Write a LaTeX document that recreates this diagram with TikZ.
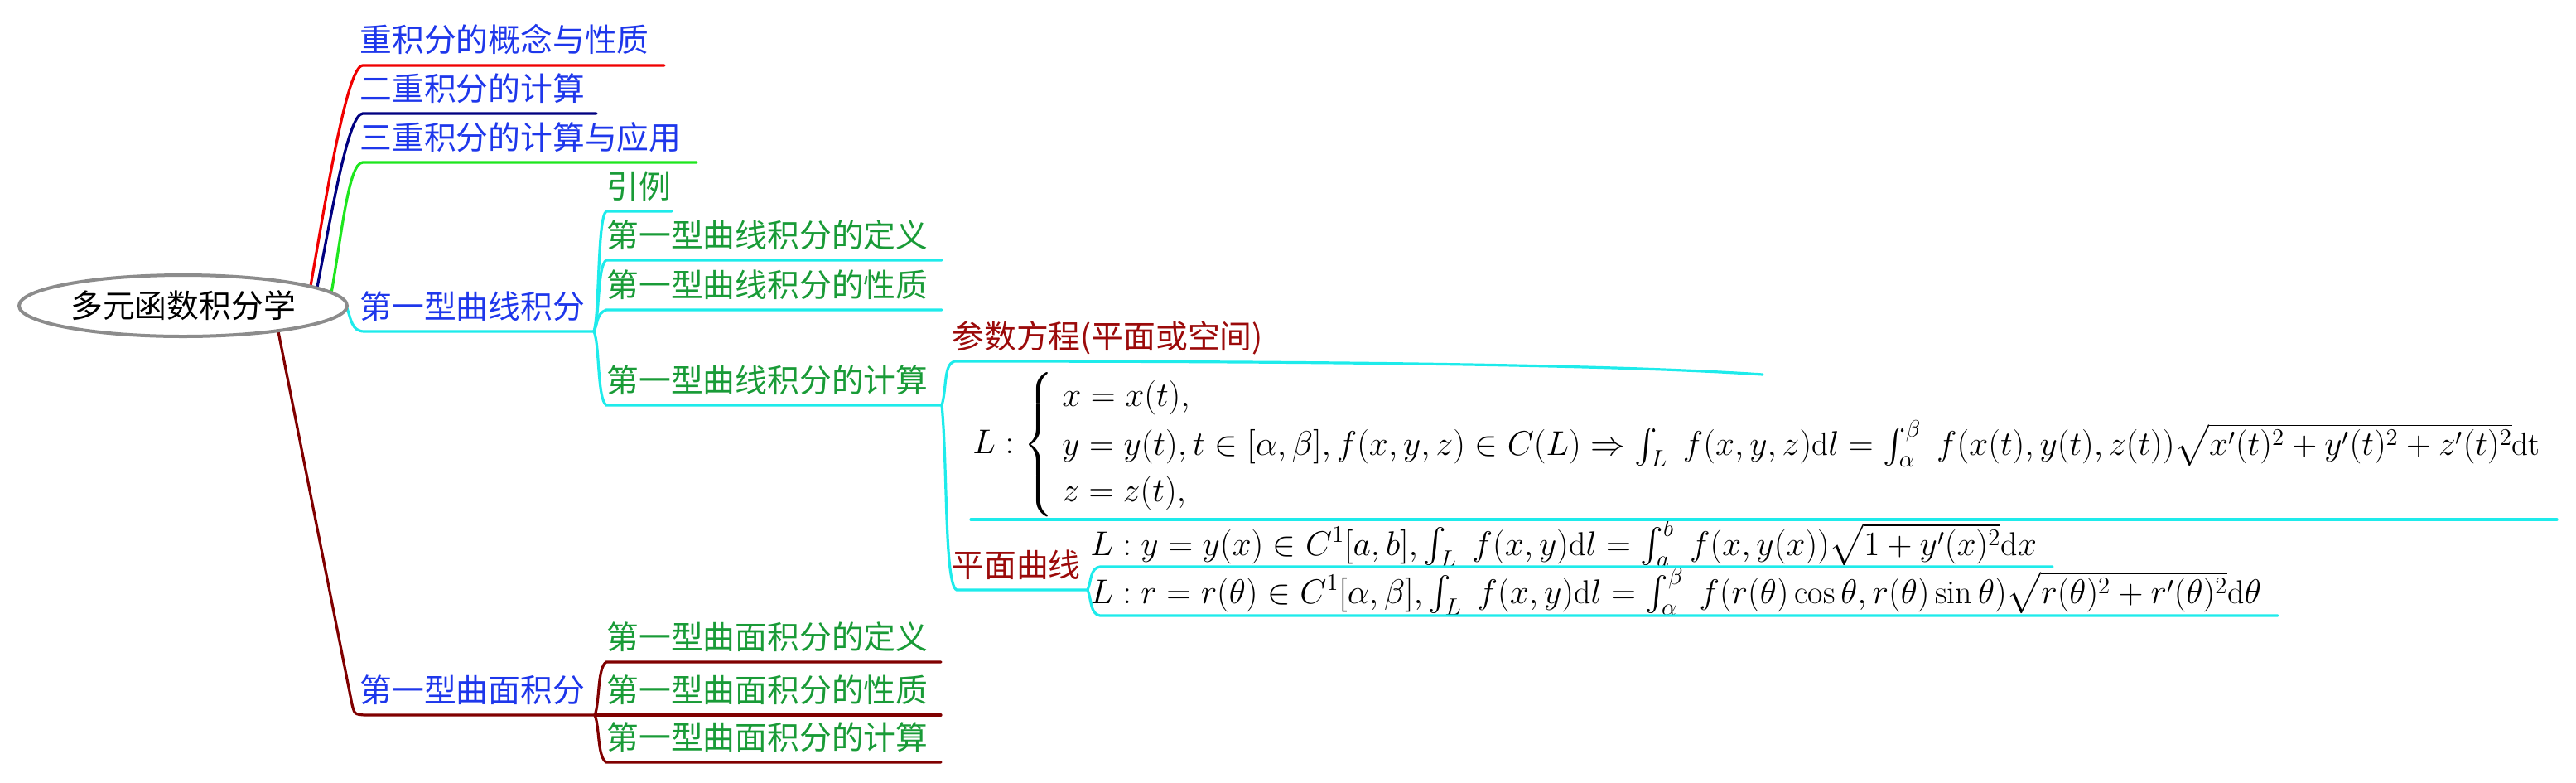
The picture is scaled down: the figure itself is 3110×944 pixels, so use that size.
\documentclass[tikz,border=0pt]{standalone}
\usepackage{fontspec}
\usepackage{amsmath}
\usetikzlibrary{shapes.geometric}
\newfontfamily\cjk{Noto Sans CJK SC}
\definecolor{lvOne}{RGB}{30,55,235}
\definecolor{lvTwo}{RGB}{25,155,55}
\definecolor{lvThree}{RGB}{155,10,10}
\definecolor{cRed}{RGB}{240,0,0}
\definecolor{cNavy}{RGB}{0,0,128}
\definecolor{cGreen}{RGB}{30,230,30}
\definecolor{cCyan}{RGB}{30,235,235}
\definecolor{cMaroon}{RGB}{128,0,0}
\definecolor{cGray}{RGB}{140,140,140}
\tikzset{
  txt/.style={anchor=base west, inner sep=0pt, font=\cjk\fontsize{19.4}{23}\selectfont},
  one/.style={txt, text=lvOne},
  two/.style={txt, text=lvTwo},
  three/.style={txt, text=lvThree},
  mth/.style={anchor=base west, inner sep=0pt, font=\fontsize{20}{24}\selectfont},
  br/.style={line width=1.6pt, line cap=round},
  rootnode/.style={ellipse, draw=cGray, line width=2pt, fill=white, inner sep=0pt,
    minimum width=198pt, minimum height=37pt, font=\cjk\fontsize{19.4}{23}\selectfont}
}
\begin{document}
\begin{tikzpicture}[x=0.5pt,y=-0.5pt]
\useasboundingbox (0,0) rectangle (3110,944);

% ---------- text nodes ----------
\node[one] (nA) at (434,62) {重积分的概念与性质};
\node[one] (nB) at (434,121) {二重积分的计算};
\node[one] (nC) at (434,180) {三重积分的计算与应用};
\node[one] (nD) at (434,384) {第一型曲线积分};
\node[one] (nE) at (434,847) {第一型曲面积分};

\node[two] (nD1) at (732,239) {引例};
\node[two] (nD2) at (732,298) {第一型曲线积分的定义};
\node[two] (nD3) at (732,358) {第一型曲线积分的性质};
\node[two] (nD4) at (732,473) {第一型曲线积分的计算};

\node[two] (nE1) at (732,783) {第一型曲面积分的定义};
\node[two] (nE2) at (732,847) {第一型曲面积分的性质};
\node[two] (nE3) at (732,904) {第一型曲面积分的计算};

\node[three] (nP) at (1149,420) {参数方程(平面或空间)};
\node[three] (nQ) at (1149,696) {平面曲线};

\node[mth, anchor=west, font=\fontsize{19.6}{23.5}\selectfont] (fP) at (1174,537) {$\renewcommand{\arraystretch}{1.18}L:\left\{\begin{array}{l}
x=x(t),\\
y=y(t),t\in[\alpha,\beta],f(x,y,z)\in C(L)\Rightarrow\int_L\ f(x,y,z)\mathrm{d}l=\int_\alpha^\beta\ f(x(t),y(t),z(t))\sqrt{x'(t)^2+y'(t)^2+z'(t)^2}\mathrm{dt}\\
z=z(t),
\end{array}\right.$};
\node[mth] (fY) at (1316,670) {$L:y=y(x)\in C^1[a,b],\int_L\ f(x,y)\mathrm{d}l=\int_a^b\ f(x,y(x))\sqrt{1+y'(x)^2}\mathrm{d}x$};
\node[mth] (fR) at (1316,728) {$L:r=r(\theta)\in C^1[\alpha,\beta],\int_L\ f(x,y)\mathrm{d}l=\int_\alpha^\beta\ f(r(\theta)\cos\theta,r(\theta)\sin\theta)\sqrt{r(\theta)^2+r'(\theta)^2}\mathrm{d}\theta$};

% ---------- coordinates ----------
\coordinate (rA) at (372,362);
\coordinate (rB) at (380,362);
\coordinate (rC) at (398,365);
\coordinate (rD) at (418,369);
\coordinate (rE) at (333,385);

\coordinate (aS) at (438,79);  \coordinate (aE) at (802,79);
\coordinate (bS) at (438,137); \coordinate (bE) at (720,137);
\coordinate (cS) at (438,196); \coordinate (cE) at (841,196);
\coordinate (dS) at (440,400); \coordinate (dE) at (717,400);
\coordinate (eK) at (425,850);
\coordinate (eS) at (440,863); \coordinate (eE) at (718,863);

\coordinate (d1S) at (732,255); \coordinate (d1E) at (811,255);
\coordinate (d2S) at (732,314); \coordinate (d2E) at (1137,314);
\coordinate (d3S) at (732,374); \coordinate (d3E) at (1137,374);
\coordinate (d4S) at (732,489); \coordinate (d4E) at (1137,489);

\coordinate (e1S) at (732,799); \coordinate (e1E) at (1136,799);
\coordinate (e3S) at (732,920); \coordinate (e3E) at (1136,920);

\coordinate (pS) at (1152,436); \coordinate (pE) at (2128,452);
\coordinate (qS) at (1155,712); \coordinate (qE) at (1313,712);
\coordinate (fPS) at (1172,627); \coordinate (fPE) at (3087,627);
\coordinate (ySt) at (1328,684); \coordinate (yE) at (2478,684);
\coordinate (rSt) at (1328,743); \coordinate (rEn) at (2750,743);

% ---------- connectors ----------
\draw[br,cRed] (rA) .. controls (392,250) and (418,79) .. (aS) -- (aE);
\draw[br,cNavy] (rB) .. controls (400,260) and (420,137) .. (bS) -- (bE);
\draw[br,cGreen] (rC) .. controls (412,290) and (420,196) .. (cS) -- (cE);
\draw[br,cCyan] (rD) .. controls (424,385) and (424,400) .. (dS) -- (dE);
\draw[br,cMaroon] (rE) -- (eK) .. controls (428,862) .. (eS) -- (eE);

\draw[br,cCyan] (dE) .. controls (724,380) and (721,262) .. (d1S) -- (d1E);
\draw[br,cCyan] (dE) .. controls (724,385) and (721,320) .. (d2S) -- (d2E);
\draw[br,cCyan] (dE) .. controls (722,390) and (720,378) .. (d3S) -- (d3E);
\draw[br,cCyan] (dE) .. controls (724,415) and (721,482) .. (d4S) -- (d4E);

\draw[br,cMaroon] (eE) .. controls (724,850) and (721,805) .. (e1S) -- (e1E);
\draw[br,cMaroon] (eE) -- (e1E |- eE);
\draw[br,cMaroon] (eE) .. controls (724,876) and (721,914) .. (e3S) -- (e3E);

\draw[br,cCyan] (d4E) .. controls (1143,470) and (1139,440) .. (pS) .. controls (1600,436) and (1950,440) .. (pE);
\draw[br,cCyan] (d4E) .. controls (1144,560) and (1140,706) .. (qS) -- (qE);
\draw[br,cCyan] (fPS) -- (fPE);
\draw[br,cCyan] (qE) .. controls (1318,700) and (1316,686) .. (ySt) -- (yE);
\draw[br,cCyan] (qE) .. controls (1318,724) and (1316,741) .. (rSt) -- (rEn);

% ---------- root (on top of connector starts) ----------
\node[rootnode] (root) at (221,369) {多元函数积分学};
\end{tikzpicture}
\end{document}
